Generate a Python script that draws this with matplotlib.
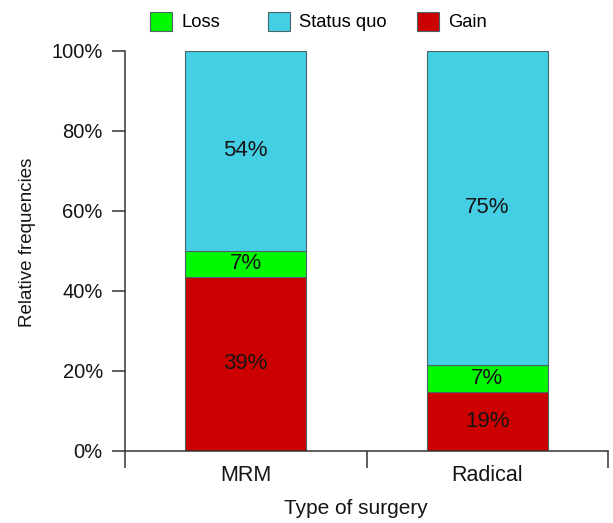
import numpy as np
import matplotlib
matplotlib.use('Agg')
import matplotlib.pyplot as plt
from matplotlib.patches import Patch

plt.rcParams['font.family'] = ['Liberation Sans', 'DejaVu Sans']

surgery = ['MRM', 'Radical']
series = ['Gain', 'Loss', 'Status quo']
# bar heights as drawn (fractions)
gain = [0.435, 0.1475]
loss = [0.065, 0.0675]
status = [0.50, 0.785]
# printed labels
gain_lbl = ['39%', '19%']
loss_lbl = ['7%', '7%']
status_lbl = ['54%', '75%']
legend_order = ['Loss', 'Status quo', 'Gain']

colors = {'Gain': '#cc0000', 'Loss': '#00f800', 'Status quo': '#45cfe5'}
edge = '#4a6468'
txt = '#151515'

fig = plt.figure(figsize=(6.13, 5.23), dpi=100)
ax = fig.add_axes([125/613, 1-450.7/523, 483/613, 400/523])

ind = np.arange(len(surgery)) + 0.5
width = 0.5
y_offset = np.zeros(len(surgery))
for name, vals, lbls in [('Gain', gain, gain_lbl), ('Loss', loss, loss_lbl), ('Status quo', status, status_lbl)]:
    ax.bar(ind, vals, width, bottom=y_offset, color=colors[name], edgecolor=edge, linewidth=0.8, zorder=2)
    for x, b, v, l in zip(ind, y_offset, vals, lbls):
        ax.text(x, b + v/2, l, ha='center', va='center', fontsize=16, color=txt, zorder=3)
    y_offset += np.array(vals)

ax.set_xlim(0, 2)
ax.set_ylim(0, 1)
for s in ['top', 'right']:
    ax.spines[s].set_visible(False)
for s in ['left', 'bottom']:
    ax.spines[s].set_color('#333333')
    ax.spines[s].set_linewidth(1.1)

ax.set_yticks([0, 0.2, 0.4, 0.6, 0.8, 1.0])
ax.set_yticklabels(['0%', '20%', '40%', '60%', '80%', '100%'], fontsize=14.5, color=txt)
ax.tick_params(axis='y', length=9.5, width=1.1, color='#333333', pad=6.5)

ax.set_xticks([0, 1, 2])
ax.set_xticklabels(['', '', ''])
ax.tick_params(axis='x', which='major', length=12.2, width=1.1, color='#333333')
ax.set_xticks(ind, minor=True)
ax.set_xticklabels(surgery, minor=True, fontsize=15.5, color=txt)
ax.tick_params(axis='x', which='minor', length=0, pad=10)

ax.set_ylabel('Relative frequencies', fontsize=13.5, color=txt)
ax.yaxis.set_label_coords(-0.184, 0.522)
fig.text(356/613, 1-508/523, 'Type of surgery', ha='center', va='center', fontsize=15, color=txt)

# one legend entry per box, placed like the original
for name, xpos in zip(legend_order, [150, 268, 417]):
    h = Patch(facecolor=colors[name], edgecolor=edge, linewidth=0.8)
    fig.legend([h], [name], loc='center left', bbox_to_anchor=(xpos/613, 1-21.5/523),
               frameon=False, fontsize=13.2, handlelength=1.2, handleheight=1.2,
               handletextpad=0.5, borderpad=0, borderaxespad=0)

fig.savefig('out.png', dpi=100)
